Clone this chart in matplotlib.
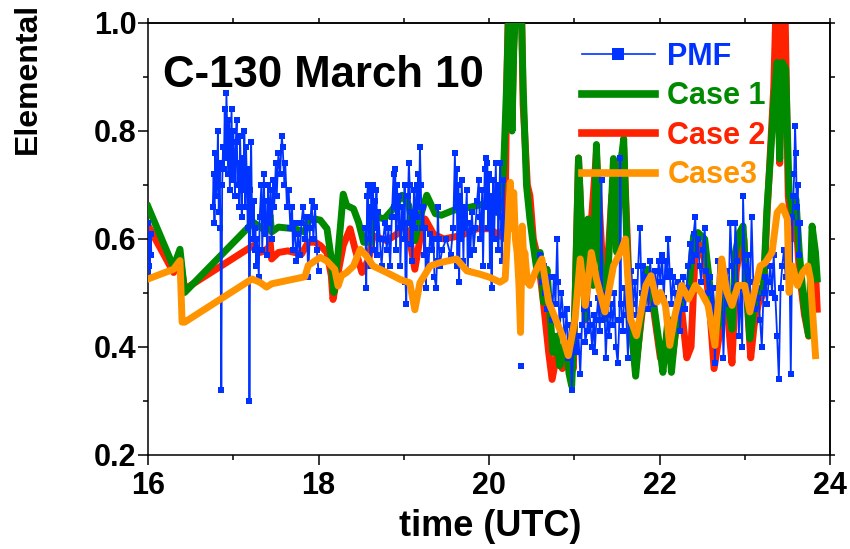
import numpy as np
import matplotlib
matplotlib.use("Agg")
import matplotlib.pyplot as plt
from matplotlib.lines import Line2D

plt.rcParams['font.family'] = ['Liberation Sans', 'DejaVu Sans']
plt.rcParams['font.weight'] = 'bold'

nan = float('nan')

# ---------------- data ----------------
pmf_t = [16.00, 16.01, 16.015, 16.02, 16.03, 16.04, nan,
         16.76, 16.77, 16.78, 16.79, 16.80, 16.81, 16.82, 16.83, 16.84, 16.85,
         16.86, 16.87, 16.88, 16.89, 16.90, 16.91, 16.92, 16.93, 16.94, 16.95,
         16.96, 16.97, 16.98, 16.99, 17.00, 17.01, 17.02, 17.03, 17.04, 17.05,
         17.06, 17.07, 17.08, 17.09, 17.10, 17.11, 17.12, 17.13, 17.14, 17.15,
         17.16, 17.17, 17.18, 17.19, 17.20, 17.21, 17.22, 17.23, 17.24, 17.25,
         17.26, 17.27, 17.28, 17.30, 17.31, 17.33, 17.34, 17.36, 17.37, 17.38,
         17.40, 17.41, 17.42, 17.44, 17.45, 17.47, 17.48, 17.50, 17.51, 17.53,
         17.55, 17.57, 17.58, 17.60, 17.61, 17.63, 17.65, 17.67, 17.69, 17.70,
         17.72, 17.74, 17.76, 17.78, 17.80, 17.82, 17.84, 17.86, 17.88, 17.90,
         17.92, 17.94, 17.96, 17.98, 18.00, nan,
         18.55, 18.56, 18.57, 18.58, 18.59, 18.60, 18.61, 18.62, 18.63, 18.64,
         18.65, 18.66, 18.67, 18.68, 18.69, 18.70, 18.72, 18.74, 18.76, 18.78,
         18.80, 18.82, 18.84, 18.86, 18.88, 18.89, 18.90, 18.91, 18.92, 18.94,
         18.95, 18.96, 18.98, 19.00, 19.01, 19.02, 19.03, 19.04, 19.05, 19.06,
         19.07, 19.08, 19.09, 19.10, 19.12, 19.13, 19.15, 19.16, 19.17, 19.18,
         19.19, 19.20, 19.21, 19.23, 19.24, 19.25, 19.26, 19.27, 19.29, 19.31,
         19.33, 19.35, 19.36, 19.38, 19.39, 19.40, 19.41, 19.42, 19.45, 19.50,
         19.55, 19.58, 19.60, 19.61, 19.62, 19.63, 19.64, 19.65, 19.66, 19.67,
         19.68, 19.70, 19.71, 19.72, 19.74, 19.75, 19.77, 19.78, 19.80, 19.82,
         19.84, 19.86, 19.88, 19.89, 19.90, 19.92, 19.93, 19.95, 19.96, 19.97,
         19.98, 19.99, 20.00, 20.01, 20.02, 20.03, 20.04, 20.05, 20.06, 20.08,
         20.09, 20.10, 20.11, 20.12, 20.13, 20.14, 20.15, 20.16, 20.17, 20.18, nan,
         20.37, nan,
         20.60, 20.62, 20.64, 20.66, 20.68, 20.70, 20.72, 20.74, 20.76, 20.78,
         20.80, 20.81, 20.83, 20.85, 20.87, 20.89, 20.91, 20.93, 20.95, 20.97,
         20.99, 21.01, 21.03, 21.05, 21.07, 21.09, 21.11, 21.13, 21.15, 21.17,
         21.19, 21.21, 21.23, 21.24, 21.26, 21.28, 21.30, 21.32, 21.33, 21.35,
         21.37, 21.39, 21.41, 21.43, 21.45, 21.47, 21.49, 21.51, 21.53, 21.54,
         21.55, 21.57, 21.59, 21.61, 21.63, 21.65, 21.67, 21.69, 21.71, 21.73,
         21.75, 21.77, 21.79, 21.81, 21.83, 21.85, 21.87, 21.89, 21.91, 21.93,
         21.95, 21.97, 21.99, 22.01, 22.03, 22.05, 22.07, 22.09, 22.10, 22.12,
         22.14, 22.16, 22.18, 22.20, 22.22, 22.24, 22.26, 22.28, 22.30, 22.32,
         22.34, 22.36, 22.38, 22.40, 22.42, 22.43, 22.45, 22.47, 22.49, 22.51,
         22.53, 22.55, 22.57, 22.59, 22.61, 22.63, 22.65, 22.67, 22.69, 22.71,
         22.73, 22.75, 22.77, 22.79, 22.81, 22.83, 22.85, 22.87, 22.89, 22.91,
         22.93, 22.95, 22.97, 22.98, 23.00, 23.02, 23.04, 23.06, 23.08, 23.10,
         23.12, 23.14, 23.16, 23.18, 23.20, 23.22, 23.24, 23.26, 23.28, 23.30,
         23.32, 23.34, 23.36, 23.38, 23.40, 23.42, 23.44, 23.46, 23.48, 23.50,
         23.52, 23.54, 23.56, 23.57, 23.58, 23.59, 23.60, 23.61, 23.62, 23.63,
         23.64, 23.65]
pmf_v = [0.63, 0.55, 0.60, 0.53, 0.61, 0.57, nan,
         0.66, 0.72, 0.63, 0.76, 0.68, 0.70, 0.80, 0.65, 0.74, 0.62,
         0.32, 0.70, 0.77, 0.73, 0.84, 0.75, 0.87, 0.79, 0.72, 0.82,
         0.69, 0.77, 0.84, 0.71, 0.80, 0.75, 0.68, 0.78, 0.82, 0.70,
         0.74, 0.66, 0.79, 0.72, 0.64, 0.75, 0.69, 0.80, 0.66, 0.77,
         0.71, 0.62, 0.73, 0.30, 0.69, 0.78, 0.64, 0.60, 0.67, 0.58,
         0.62, 0.55, 0.60, 0.53, 0.64, 0.70, 0.58, 0.72, 0.61, 0.67,
         0.57, 0.70, 0.63, 0.69, 0.60, 0.71, 0.66, 0.74, 0.68, 0.76,
         0.72, 0.79, 0.77, 0.70, 0.74, 0.66, 0.69, 0.62, 0.66, 0.58,
         0.63, 0.56, 0.61, 0.57, 0.63, 0.66, 0.60, 0.64, 0.53, 0.62,
         0.67, 0.60, 0.66, 0.58, 0.54, nan,
         0.62, 0.51, 0.68, 0.70, 0.60, 0.66, 0.55, 0.69, 0.64, 0.70,
         0.58, 0.67, 0.62, 0.69, 0.57, 0.65, 0.60, 0.55, 0.60, 0.63,
         0.58, 0.62, 0.55, 0.64, 0.72, 0.66, 0.73, 0.58, 0.70, 0.62,
         0.68, 0.55, 0.66, 0.60, 0.70, 0.52, 0.48, 0.63, 0.68, 0.74,
         0.70, 0.59, 0.65, 0.56, 0.69, 0.62, 0.70, 0.64, 0.72, 0.66,
         0.77, 0.70, 0.62, 0.66, 0.57, 0.62, 0.51, 0.58, 0.55, 0.61,
         0.58, 0.60, 0.53, 0.51, 0.56, 0.66, 0.60, 0.55, 0.58, 0.60,
         0.57, 0.62, 0.76, 0.66, 0.73, 0.55, 0.70, 0.52, 0.68, 0.60,
         0.71, 0.56, 0.66, 0.62, 0.69, 0.54, 0.63, 0.57, 0.65, 0.58,
         0.62, 0.67, 0.71, 0.64, 0.60, 0.69, 0.55, 0.73, 0.75, 0.66,
         0.74, 0.62, 0.72, 0.55, 0.68, 0.51, 0.63, 0.71, 0.60, 0.74,
         0.65, 0.70, 0.58, 0.67, 0.74, 0.64, 0.56, 0.62, 0.71, 0.60, nan,
         0.365, nan,
         0.57, 0.52, 0.55, 0.50, 0.47, 0.53, 0.49, 0.45, 0.53, 0.48,
         0.60, 0.52, 0.43, 0.50, 0.46, 0.41, 0.47, 0.38, 0.44, 0.32,
         0.40, 0.45, 0.39, 0.42, 0.35, 0.44, 0.47, 0.41, 0.43, 0.48,
         0.44, 0.40, 0.46, 0.39, 0.45, 0.49, 0.43, 0.71, 0.45, 0.50,
         0.38, 0.46, 0.42, 0.48, 0.44, 0.50, 0.40, 0.37, 0.45, 0.75,
         0.48, 0.43, 0.51, 0.46, 0.38, 0.50, 0.54, 0.48, 0.52, 0.46,
         0.55, 0.62, 0.50, 0.55, 0.49, 0.53, 0.47, 0.56, 0.51, 0.48,
         0.54, 0.50, 0.56, 0.52, 0.57, 0.49, 0.56, 0.53, 0.60, 0.54,
         0.48, 0.53, 0.50, 0.46, 0.52, 0.43, 0.49, 0.53, 0.47, 0.51,
         0.55, 0.59, 0.56, 0.61, 0.64, 0.57, 0.60, 0.55, 0.52, 0.58,
         0.62, 0.54, 0.50, 0.53, 0.47, 0.51, 0.37, 0.48, 0.56, 0.49,
         0.53, 0.38, 0.50, 0.54, 0.48, 0.63, 0.55, 0.51, 0.63, 0.56,
         0.42, 0.51, 0.40, 0.68, 0.55, 0.51, 0.57, 0.49, 0.64, 0.52,
         0.47, 0.51, 0.49, 0.45, 0.40, 0.50, 0.53, 0.48, 0.52, 0.55,
         0.50, 0.57, 0.49, 0.42, 0.34, 0.51, 0.55, 0.58, 0.53, 0.56,
         0.63, 0.35, 0.64, 0.68, 0.72, 0.81, 0.76, 0.66, 0.70, 0.63,
         0.57, 0.63]

case1_t = [16.00, 16.30, 16.375, 16.43, 17.235, 17.37, 17.42, 17.43, 17.45, 17.53,
           17.72, 17.84, 17.88, 17.96, 18.02, 18.10, 18.15, 18.18, 18.23, 18.29,
           18.33, 18.41, 18.47, 18.53, 18.61, 18.63, 18.77, 18.86, 18.98, 19.06,
           19.13, 19.21, 19.27, 19.37, 19.44, 19.58, 19.78, 19.97, 20.09, 20.13,
           20.17, 20.21, 20.23, 20.25, 20.27, 20.29, 20.31, 20.35, 20.38, 20.40,
           20.44, 20.48, 20.52, 20.56, 20.60, 20.64, 20.68, 20.72, 20.75, 20.79,
           20.83, 20.87, 20.91, 20.94, 20.97, 21.01, 21.05, 21.09, 21.13, 21.16,
           21.22, 21.26, 21.30, 21.36, 21.42, 21.46, 21.50, 21.54, 21.58, 21.62,
           21.66, 21.72, 21.78, 21.86, 21.93, 22.01, 22.04, 22.10, 22.14, 22.20,
           22.26, 22.34, 22.40, 22.45, 22.53, 22.59, 22.65, 22.71, 22.75, 22.79,
           22.85, 22.89, 22.94, 22.98, 23.02, 23.06, 23.10, 23.16, 23.22, 23.26,
           23.30, 23.34, 23.38, 23.41, 23.44, 23.48, 23.52, 23.56, 23.60, 23.64,
           23.70, 23.75, 23.79, 23.83, 23.85]
case1_v = [0.660, 0.548, 0.581, 0.501, 0.631, 0.616, 0.625, 0.645, 0.613, 0.622,
           0.619, 0.613, 0.634, 0.637, 0.635, 0.619, 0.563, 0.501, 0.575, 0.683,
           0.662, 0.656, 0.631, 0.594, 0.594, 0.644, 0.637, 0.653, 0.681, 0.662,
           0.597, 0.650, 0.681, 0.647, 0.644, 0.653, 0.659, 0.666, 0.649, 0.660,
           0.724, 0.900, 1.020, 0.920, 0.800, 0.950, 1.020, 1.020, 1.020, 0.884,
           0.699, 0.637, 0.588, 0.544, 0.575, 0.483, 0.544, 0.452, 0.390, 0.420,
           0.365, 0.400, 0.390, 0.350, 0.328, 0.483, 0.750, 0.606, 0.452, 0.637,
           0.514, 0.775, 0.575, 0.452, 0.606, 0.749, 0.575, 0.730, 0.786, 0.575,
           0.452, 0.346, 0.452, 0.544, 0.483, 0.390, 0.353, 0.452, 0.353, 0.452,
           0.483, 0.501, 0.606, 0.612, 0.600, 0.514, 0.421, 0.452, 0.538, 0.489,
           0.433, 0.575, 0.612, 0.624, 0.514, 0.415, 0.465, 0.501, 0.514, 0.655,
           0.748, 0.853, 0.927, 0.748, 0.927, 0.915, 0.686, 0.649, 0.674, 0.575,
           0.470, 0.421, 0.624, 0.575, 0.526]

case2_t = [16.00, 16.30, 16.375, 16.43, 17.235, 17.31, 17.37, 17.42, 17.43, 17.45,
           17.53, 17.64, 17.80, 17.88, 17.96, 18.02, 18.10, 18.15, 18.17, 18.23,
           18.29, 18.37, 18.43, 18.51, 18.59, 18.64, 18.80, 18.92, 18.99, 19.07,
           19.13, 19.19, 19.25, 19.35, 19.47, 19.66, 19.86, 20.01, 20.13, 20.17,
           20.19, 20.21, 20.23, 20.25, 20.27, 20.29, 20.31, 20.35, 20.38, 20.40,
           20.45, 20.48, 20.52, 20.58, 20.64, 20.70, 20.74, 20.80, 20.86, 20.93,
           20.99, 21.05, 21.13, 21.19, 21.26, 21.36, 21.44, 21.52, 21.58, 21.66,
           21.72, 21.80, 21.86, 21.93, 22.01, 22.05, 22.10, 22.15, 22.20, 22.26,
           22.32, 22.37, 22.42, 22.47, 22.53, 22.59, 22.64, 22.70, 22.75, 22.80,
           22.85, 22.90, 22.95, 22.99, 23.03, 23.07, 23.11, 23.16, 23.22, 23.26,
           23.30, 23.34, 23.37, 23.39, 23.41, 23.43, 23.47, 23.51, 23.56, 23.60,
           23.64, 23.70, 23.75, 23.79, 23.83, 23.85]
case2_v = [0.625, 0.538, 0.563, 0.507, 0.588, 0.575, 0.578, 0.585, 0.600, 0.563,
           0.575, 0.578, 0.572, 0.594, 0.594, 0.588, 0.575, 0.532, 0.488, 0.538,
           0.588, 0.619, 0.581, 0.538, 0.563, 0.606, 0.597, 0.609, 0.631, 0.600,
           0.544, 0.600, 0.637, 0.609, 0.600, 0.606, 0.619, 0.619, 0.605, 0.620,
           0.660, 0.900, 1.050, 0.950, 0.820, 0.960, 1.050, 1.050, 1.050, 0.850,
           0.700, 0.680, 0.600, 0.560, 0.480, 0.390, 0.340, 0.390, 0.360, 0.390,
           0.360, 0.750, 0.450, 0.610, 0.760, 0.470, 0.680, 0.730, 0.770, 0.450,
           0.360, 0.470, 0.530, 0.470, 0.380, 0.370, 0.440, 0.380, 0.440, 0.470,
           0.380, 0.400, 0.580, 0.590, 0.560, 0.470, 0.360, 0.420, 0.520, 0.460,
           0.370, 0.540, 0.590, 0.600, 0.480, 0.380, 0.440, 0.480, 0.500, 0.640,
           0.760, 0.880, 1.050, 0.980, 0.740, 1.050, 1.050, 0.680, 0.600, 0.640,
           0.540, 0.460, 0.420, 0.580, 0.540, 0.470]

case3_t = [16.00, 16.30, 16.375, 16.40, 16.43, 17.22, 17.31, 17.39, 17.45, 17.84,
           17.88, 18.02, 18.10, 18.19, 18.23, 18.27, 18.33, 18.41, 18.49, 18.56,
           18.64, 18.80, 18.96, 19.07, 19.13, 19.19, 19.31, 19.42, 19.62, 19.74,
           19.89, 20.01, 20.13, 20.19, 20.25, 20.27, 20.29, 20.31, 20.33, 20.35,
           20.37, 20.39, 20.41, 20.42, 20.45, 20.48, 20.54, 20.62, 20.70, 20.78,
           20.86, 20.93, 21.01, 21.07, 21.13, 21.20, 21.26, 21.36, 21.46, 21.54,
           21.60, 21.66, 21.73, 21.84, 21.90, 21.97, 22.01, 22.07, 22.12, 22.18,
           22.26, 22.34, 22.42, 22.49, 22.57, 22.65, 22.73, 22.79, 22.85, 22.92,
           23.00, 23.06, 23.12, 23.18, 23.24, 23.32, 23.38, 23.44, 23.50, 23.52,
           23.56, 23.62, 23.68, 23.74, 23.77, 23.83]
case3_v = [0.526, 0.544, 0.560, 0.446, 0.446, 0.526, 0.520, 0.511, 0.517, 0.530,
           0.551, 0.566, 0.559, 0.544, 0.513, 0.532, 0.538, 0.550, 0.581, 0.569,
           0.550, 0.538, 0.525, 0.519, 0.469, 0.519, 0.550, 0.556, 0.563, 0.541,
           0.535, 0.529, 0.520, 0.526, 0.705, 0.620, 0.686, 0.600, 0.575, 0.520,
           0.427, 0.624, 0.550, 0.575, 0.520, 0.514, 0.538, 0.563, 0.483, 0.452,
           0.421, 0.384, 0.452, 0.563, 0.477, 0.575, 0.526, 0.465, 0.550, 0.575,
           0.600, 0.452, 0.421, 0.514, 0.532, 0.483, 0.501, 0.477, 0.403, 0.458,
           0.514, 0.489, 0.514, 0.501, 0.477, 0.403, 0.563, 0.501, 0.477, 0.514,
           0.514, 0.465, 0.507, 0.550, 0.556, 0.575, 0.649, 0.661, 0.637, 0.501,
           0.550, 0.514, 0.538, 0.550, 0.526, 0.384]

labels = ['PMF', 'Case 1', 'Case 2', 'Case3']
colors = ['#0033ff', '#008a00', '#ff2200', '#ff9400']
x_ticks = [16, 18, 20, 22, 24]
y_ticks = [0.2, 0.4, 0.6, 0.8, 1.0]

# ---------------- figure ----------------
W, H = 850, 549
fig = plt.figure(figsize=(W / 100, H / 100), dpi=100)
ax = fig.add_axes([148 / W, 1 - 455 / H, (830 - 148) / W, (455 - 23) / H])

LW = 5.0
ax.plot(case2_t, case2_v, color=colors[2], lw=LW, solid_joinstyle='round', zorder=2)
ax.plot(case1_t, case1_v, color=colors[1], lw=LW, solid_joinstyle='round', zorder=3)
ax.plot(pmf_t, pmf_v, color=colors[0], lw=1.3, marker='s', ms=4.0, mew=0, zorder=4)
ax.plot(case3_t, case3_v, color=colors[3], lw=LW, solid_joinstyle='round', zorder=5)

ax.set_xlim(16, 24)
ax.set_ylim(0.2, 1.0)
ax.set_xticks(x_ticks)
ax.set_xticklabels([str(v) for v in x_ticks])
ax.set_yticks(y_ticks)
ax.set_yticklabels([f'{v:.1f}' for v in y_ticks])
ax.set_xticks(np.arange(17, 24, 2), minor=True)
ax.set_yticks([0.3, 0.5, 0.7, 0.9], minor=True)
for s in ax.spines.values():
    s.set_linewidth(1.1)
ax.tick_params(which='major', direction='out', length=7.2, width=1.1, labelsize=22)
ax.tick_params(which='minor', direction='out', length=3.6, width=1.1)
ax.tick_params(axis='x', which='major', pad=4)
ax.tick_params(axis='y', which='major', pad=1)
ax.tick_params(top=False, right=False, which='both')

secx = ax.secondary_xaxis('top')
secx.set_xticks(list(range(16, 25)))
secx.tick_params(direction='out', length=3.6, width=1.1, labeltop=False)
secy = ax.secondary_yaxis('right')
secy.set_yticks([0.2 + 0.1 * i for i in range(9)])
secy.tick_params(direction='out', length=3.6, width=1.1, labelright=False)
for sa in (secx, secy):
    for s in sa.spines.values():
        s.set_linewidth(1.1)

ax.text(0.022, 0.925, 'C-130 March 10', transform=ax.transAxes, fontsize=31.5,
        fontweight='bold', color='black', ha='left', va='top', zorder=10)

fig.text(490 / W, 1 - 527 / H, 'time (UTC)', fontsize=26, fontweight='bold',
         ha='center', va='center')
fig.text(28 / W, 1 - 154 / H, 'Elemental', fontsize=23, fontweight='bold',
         rotation=90, ha='center', va='bottom')

handles = [
    Line2D([], [], color=colors[0], lw=1.2, marker='s', ms=8, mew=0),
    Line2D([], [], color=colors[1], lw=5.5),
    Line2D([], [], color=colors[2], lw=5.5),
    Line2D([], [], color=colors[3], lw=5.5),
]
leg = ax.legend(handles, labels, loc='upper left', bbox_to_anchor=(0.636, 0.956),
                frameon=False, fontsize=22, handlelength=2.4, handletextpad=0.4,
                labelspacing=0.31, borderpad=0, borderaxespad=0)
for txt, c in zip(leg.get_texts(), colors):
    txt.set_color(c)
    txt.set_fontweight('bold')

fig.savefig('out.png', dpi=100)
